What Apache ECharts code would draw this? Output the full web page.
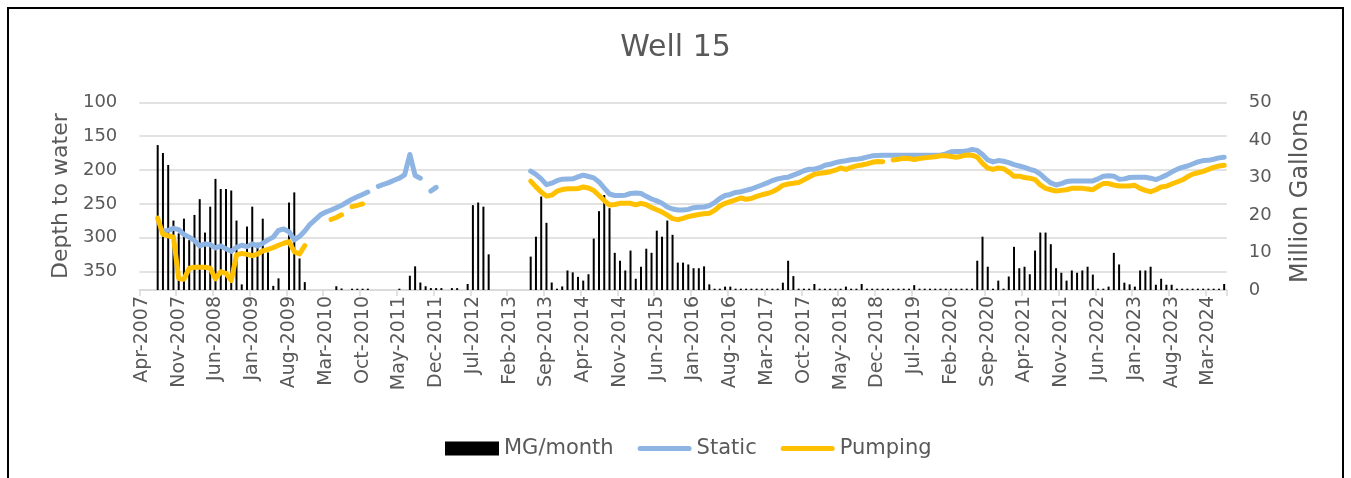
<!DOCTYPE html>
<html>
<head>
<meta charset="utf-8">
<script src="https://cdn.jsdelivr.net/npm/echarts@6/dist/echarts.min.js"></script>
<style>
html,body{margin:0;padding:0;background:#fff;}
#chart{width:1351px;height:478px;}
</style>
</head>
<body>
<div id="chart"></div>
<script>
// Month categories Apr-2007 .. Jun-2024
const monthNames = ['Jan','Feb','Mar','Apr','May','Jun','Jul','Aug','Sep','Oct','Nov','Dec'];
const categories = [];
for (let k = 0; k < 207; k++) {
  const m = (3 + k) % 12;
  const y = 2007 + Math.floor((3 + k) / 12);
  categories.push(monthNames[m] + '-' + y);
}

// Million gallons pumped per month (right axis)
const mgMonth = [
  null,null,null,38.6,36.5,33.3,18.5,15.1,19.0,13.3,
  20.0,24.2,15.3,22.2,29.6,26.9,26.9,26.5,18.5,1.5,
  16.9,22.2,12.6,19.0,10.0,1.1,3.1,null,23.3,26.0,
  8.4,2.1,null,null,null,null,null,1.0,0.4,null,
  0.35,0.35,0.35,0.35,null,null,null,null,null,0.35,
  null,3.8,6.3,2.0,1.0,0.5,0.5,0.5,null,0.5,
  0.5,null,1.6,22.6,23.3,22.2,9.5,null,null,null,
  null,null,null,null,8.9,14.2,24.9,17.9,2.0,0.35,
  0.95,5.2,4.7,3.5,2.5,4.2,13.7,21.0,25.3,21.8,
  9.9,7.8,5.2,10.5,3.0,6.2,11.0,9.9,15.8,14.2,
  18.5,14.7,7.3,7.3,6.8,5.8,5.8,6.3,1.5,0.35,
  0.35,0.9,0.9,0.35,0.35,0.35,0.35,0.35,0.35,0.35,
  0.35,0.35,1.95,7.8,3.7,0.35,0.35,0.35,1.6,0.35,
  0.35,0.35,0.35,0.35,0.9,0.35,0.35,1.6,0.35,0.35,
  0.35,0.35,0.35,0.35,0.35,0.35,0.35,1.3,0.35,0.35,
  0.35,0.35,0.35,0.35,0.35,0.35,0.35,0.35,0.35,7.8,
  14.2,6.2,0.35,2.5,0.35,3.6,11.5,5.8,6.2,4.2,
  10.5,15.3,15.3,12.2,5.8,4.6,2.5,5.2,4.6,5.2,
  6.2,4.1,0.35,0.35,0.9,9.9,6.8,1.95,1.5,0.9,
  5.2,5.2,6.2,1.4,3.0,1.4,1.4,0.35,0.35,0.35,
  0.35,0.35,0.35,0.35,0.35,0.35,1.6
];

// Static depth to water (ft)
const staticLevel = [
  null,null,null,null,290,289,286,288,295,299,
  304,312,309,310,315,312,316,320,314,311,
  313,309,312,308,303,299,289,287,291,303,
  298,290,280,273,266,262,259,255.5,252,247.5,
  243,239.5,236,232.5,null,224,221,218.5,215,212,
  207,177,208,212,null,231,225.5,null,null,null,
  null,null,null,null,null,null,null,null,null,null,
  null,null,null,null,201.5,206.3,213,221.5,219.3,215.6,
  213.5,213.3,213,210.2,207.5,209.5,211.5,217.5,226.5,235.3,
  237.5,237.5,237,234.6,233.8,234.6,238.8,242.7,245.5,249,
  254.5,257.5,259,259,258,255.5,255,254.5,252.5,248,
  242,237.5,236,233,232,230,228,225,222,219,
  215.5,213,211.5,210.5,207.5,204.5,201,198.8,198.8,196.5,
  193,191.5,189,187.3,186.2,184.7,184.2,183,181,179,
  178.5,178,178,178,178,178,178,178,178,178,
  178,178,178,176,173,172.5,172.5,172,169.5,171,
  177,185,188,186,187,189,192,194,196,199,
  201,206,213,219,222,220,217,216,216,216,
  216,216,213,209,208.5,209,213.5,213,211,210.7,
  210.7,210.7,212,214,211,207.5,203,199,196,194,
  191,188,186,185.7,184,182,181
];

// Pumping depth to water (ft)
const pumpingLevel = [
  null,null,null,271,295,297,299,360,361,345,
  343.5,343.5,343.5,345,360.5,350,352.4,363,325.3,323,
  324.4,326.3,324,319.4,317,314.5,311,308,305.7,320.4,
  323.9,311.6,null,null,null,null,273,270,266,null,
  254,252,250,null,null,null,null,null,null,null,
  null,null,null,null,null,null,null,null,null,null,
  null,null,null,null,null,null,null,null,null,null,
  null,null,null,null,216.4,224.8,232.4,238.5,237,231.2,
  228.7,227.7,227.7,227.2,225,226.5,230.1,237.5,245,251.6,
  250.8,249.1,248.8,249.1,251.3,249.1,251.1,255.2,258.7,262,
  266.6,271.7,273.2,271.2,268.8,267,265.5,264.4,263.9,259.5,
  253,249.1,246.5,244,241.2,243,242,238.8,236.5,234.6,
  232,228,222.5,220.6,219.6,218.4,214.5,210.2,206.3,204.8,
  204,202.4,200.2,197,199,196,193.8,192.5,190.9,188.5,
  187.5,187.6,null,185.2,184,182.7,183,184.5,183,182,
  181.2,180.3,179,179,180,181,179.5,177.8,178,181,
  190,197,199,197,198,203,209,209,211,212,
  214,222,227,229,231,230,229,227,227,227,
  228,229,224,220,220,222,223.5,223.5,223.5,222.5,
  227,230,232,229,225,224,220.6,217.6,214.7,210,
  206,204,202,199,196,194,193
];

const seriesNames = ['MG/month', 'Static', 'Pumping'];

const FONT = 'DejaVu Sans';
const TXT = '#595959';
const GRID = '#d9d9d9';
const LINE_ICON = 'path://M2.5,0 H51.5 A2.5,2.5 0 0 1 51.5,5 H2.5 A2.5,2.5 0 0 1 2.5,0 Z';

const chart = echarts.init(document.getElementById('chart'), null, {renderer: 'canvas'});
chart.setOption({
  animation: false,
  backgroundColor: '#ffffff',
  title: {
    text: 'Well 15',
    left: 'center',
    top: 28,
    textStyle: {fontFamily: FONT, fontSize: 30, fontWeight: 'normal', color: TXT}
  },
  legend: {
    data: [
      {name: seriesNames[0], icon: 'rect'},
      {name: seriesNames[1], icon: LINE_ICON},
      {name: seriesNames[2], icon: LINE_ICON}
    ],
    left: 440,
    top: 433,
    itemWidth: 54,
    itemHeight: 14,
    itemGap: 24,
    textStyle: {fontFamily: FONT, fontSize: 21, color: TXT}
  },
  grid: {left: 139.3, right: 124.2, top: 102.3, bottom: 188},
  xAxis: {
    type: 'category',
    data: categories,
    boundaryGap: true,
    axisLine: {lineStyle: {color: GRID, width: 1.5}},
    axisTick: {show: true, interval: 6, length: 6, lineStyle: {color: GRID, width: 1.5}},
    axisLabel: {interval: 6, rotate: 90, margin: 6, fontFamily: FONT, fontSize: 19, color: TXT},
    splitLine: {show: false}
  },
  yAxis: [
    {
      type: 'value',
      inverse: true,
      min: 100,
      max: 377,
      interval: 50,
      position: 'left',
      name: 'Depth to water',
      nameLocation: 'middle',
      nameRotate: 90,
      nameGap: 66,
      nameTextStyle: {fontFamily: FONT, fontSize: 22, color: TXT},
      axisLine: {show: false},
      axisTick: {show: false},
      axisLabel: {margin: 22, fontFamily: FONT, fontSize: 18, color: TXT, showMaxLabel: false},
      splitLine: {lineStyle: {color: GRID, width: 1.5}}
    },
    {
      type: 'value',
      min: 0,
      max: 50,
      interval: 10,
      position: 'right',
      name: 'Million Gallons',
      nameLocation: 'middle',
      nameRotate: 90,
      nameGap: 62,
      nameTextStyle: {fontFamily: FONT, fontSize: 24, color: TXT},
      axisLine: {show: false},
      axisTick: {show: false},
      axisLabel: {margin: 22, fontFamily: FONT, fontSize: 18, color: TXT},
      splitLine: {show: false}
    }
  ],
  series: [
    {
      name: seriesNames[0],
      type: 'bar',
      yAxisIndex: 1,
      data: mgMonth,
      barWidth: 2,
      itemStyle: {color: '#000000'}
    },
    {
      name: seriesNames[1],
      type: 'line',
      yAxisIndex: 0,
      data: staticLevel,
      symbol: 'none',
      connectNulls: false,
      itemStyle: {color: '#8EB4E3'},
      lineStyle: {color: '#8EB4E3', width: 5, cap: 'round', join: 'round'}
    },
    {
      name: seriesNames[2],
      type: 'line',
      yAxisIndex: 0,
      data: pumpingLevel,
      symbol: 'none',
      connectNulls: false,
      itemStyle: {color: '#FFC000'},
      lineStyle: {color: '#FFC000', width: 5, cap: 'round', join: 'round'}
    }
  ],
  graphic: [
    {
      type: 'rect',
      silent: true,
      shape: {x: 8, y: 8, width: 1335, height: 500},
      style: {fill: 'none', stroke: '#000000', lineWidth: 2}
    }
  ]
});
</script>
</body>
</html>
